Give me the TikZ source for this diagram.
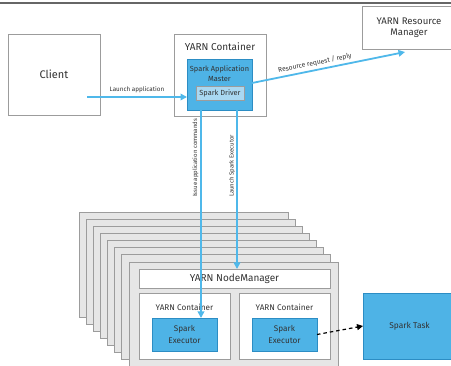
\documentclass[tikz,border=0pt]{standalone}
\usepackage{fontspec}
\setmainfont{Fira Sans}
\usetikzlibrary{arrows.meta,calc}
\definecolor{bluefill}{HTML}{4EB3E6}
\definecolor{blueline}{HTML}{2C8DC4}
\definecolor{drvfill}{HTML}{A9D8F2}
\definecolor{arrblue}{HTML}{4FB8EA}
\definecolor{grayfill}{HTML}{E6E6E6}
\definecolor{grayline}{HTML}{9C9C9C}
\definecolor{txt}{HTML}{333333}
\tikzset{
  box/.style={draw=grayline, line width=0.8pt, fill=white, inner sep=0pt, outer sep=0pt, anchor=north west, text=txt},
  stackbox/.style={draw=grayline, line width=0.8pt, fill=grayfill, inner sep=0pt, outer sep=0pt, anchor=north west},
  bluebox/.style={draw=blueline, line width=0.8pt, fill=bluefill, inner sep=0pt, outer sep=0pt, anchor=north west, text=txt},
  lbl/.style={text=txt, inner sep=0pt, font=\fontsize{6.3}{7}\selectfont},
  vlbl/.style={text=txt, inner sep=0pt, font=\fontsize{6}{7}\selectfont, rotate=90, anchor=west},
  flow/.style={draw=arrblue, line width=1.8pt, -{Triangle[length=6.5pt,width=6.5pt]}},
}
\begin{document}
\begin{tikzpicture}[x=1pt,y=-1pt]
\useasboundingbox (0,0) rectangle (451,366);
\fill[white] (0,0) rectangle (451,366);
\draw[draw=gray!80!black, line width=1.5pt] (0,3) -- (451,3);
% Client
\node[box, minimum width=92pt, minimum height=81pt, font=\fontsize{11}{13}\selectfont] (client) at (8,34) {Client};
% YARN container (top)
\node[box, minimum width=92pt, minimum height=82pt] (ycont) at (174,34) {};
\node[text=txt, inner sep=0pt, font=\fontsize{10}{12}\selectfont] (ycontlbl) at (220,47) {YARN Container};
% Spark Application Master
\node[bluebox, minimum width=65pt, minimum height=51pt] (sam) at (187,59) {};
\node[text=txt, inner sep=0pt, align=center, font=\fontsize{7.4}{10}\selectfont] (samlbl) at (219.5,74) {Spark Application\\Master};
\node[draw=grayline, line width=0.6pt, fill=drvfill, inner sep=0pt, outer sep=0pt, anchor=north west, text=txt, minimum width=48pt, minimum height=14pt, font=\fontsize{7.4}{9}\selectfont] (drv) at (196,86) {Spark Driver};
% Resource Manager
\node[box, minimum width=94pt, minimum height=43pt, align=center, font=\fontsize{9.6}{11.5}\selectfont] (rm) at (362,6) {YARN Resource\\Manager};
% Stack of nodes
\foreach \i in {0,...,7}{
  \node[stackbox, minimum width=209pt, minimum height=105pt] (st\i) at ({79+7.14*\i},{212+7.14*\i}) {};
}
\node[box, minimum width=191pt, minimum height=19pt, font=\fontsize{10}{12}\selectfont] (nm) at (139,269) {YARN NodeManager};
\node[box, minimum width=91pt, minimum height=66pt] (c1) at (139,293) {};
\node[box, minimum width=91pt, minimum height=66pt] (c2) at (239,293) {};
\node[text=txt, inner sep=0pt, font=\fontsize{8.2}{10}\selectfont] (c1lbl) at (184.5,307) {YARN Container};
\node[text=txt, inner sep=0pt, font=\fontsize{8.2}{10}\selectfont] (c2lbl) at (284.5,307) {YARN Container};
\node[bluebox, minimum width=65pt, minimum height=33pt, align=center, font=\fontsize{8.2}{11.5}\selectfont] (ex1) at (152,318) {Spark\\Executor};
\node[bluebox, minimum width=65pt, minimum height=33pt, align=center, font=\fontsize{8.2}{11.5}\selectfont] (ex2) at (252,318) {Spark\\Executor};
\node[bluebox, minimum width=93pt, minimum height=66pt, font=\fontsize{8.4}{10}\selectfont] (task) at (363,293) {Spark Task};
% Connectors
\coordinate (launchstart) at (87,97);
\draw[flow] (launchstart) -- (launchstart -| sam.west) node[lbl, midway, above=3pt] {Launch application};
\coordinate (rrend) at (405,52);
\draw[flow] ($(sam.east)+(0,-1.5)$) -- (rrend) node[lbl, font=\fontsize{6.7}{7}\selectfont, pos=0.42, sloped, above=2.5pt] {Resource request / reply};
\coordinate (issuex) at (201,0);
\coordinate (launchx) at (237,0);
\draw[flow] (sam.south -| issuex) -- (ex1.north -| issuex);
\draw[flow] (sam.south -| launchx) -- (nm.north -| launchx);
\node[vlbl] (issuelbl) at (195.5,197) {Issue application commands};
\node[vlbl] (launchlbl) at (232,197) {Launch Spark Executor};
\draw[black, line width=1.2pt, dashed, dash pattern=on 3.5pt off 3pt, -{Triangle[length=6pt,width=6pt]}] (ex2.east) -- (task.west);
\end{tikzpicture}
\end{document}
